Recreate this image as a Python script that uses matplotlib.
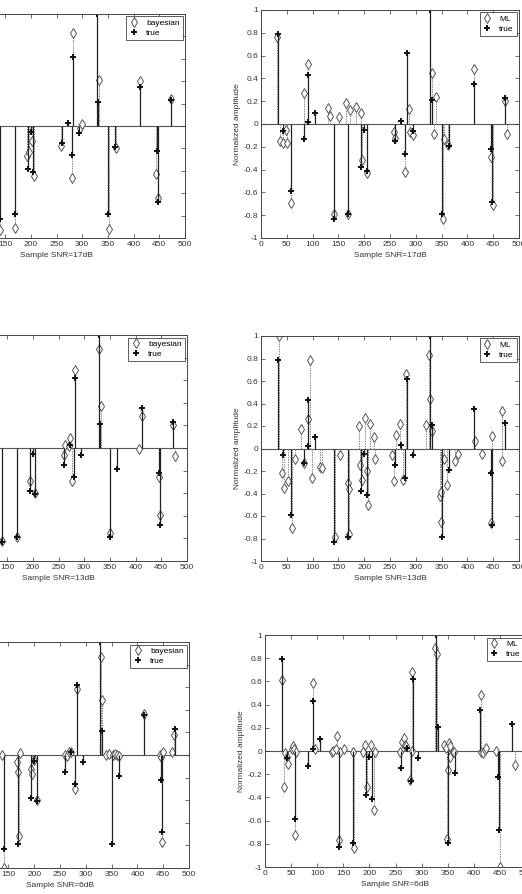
import numpy as np
import matplotlib
matplotlib.use("Agg")
import matplotlib.pyplot as plt

plt.rcParams["font.family"] = ["Liberation Sans", "DejaVu Sans"]

# True sparse signal (same in all panels)
true_idx = [33, 43, 58, 83, 91, 92, 105, 141, 169, 194, 200, 205, 260, 272, 280, 283,
            294, 328, 331, 351, 364, 412, 446, 448, 473]
true_val = [0.79, -0.06, -0.59, -0.13, 0.02, 0.43, 0.10, -0.83, -0.79, -0.38, -0.05, -0.41,
            -0.15, 0.03, -0.26, 0.62, -0.06, 1.00, 0.21, -0.79, -0.19, 0.35, -0.22, -0.68, 0.23]

# Bayesian estimates (left column, only the visible part)
bay17_idx = [141, 169, 193, 196, 202, 207, 259, 280, 283, 296, 299, 333, 352, 366, 412, 444, 448, 472]
bay17_val = [-0.93, -0.91, -0.27, -0.23, -0.13, -0.45, -0.18, -0.46, 0.83, -0.02, 0.02, 0.41,
             -0.92, -0.20, 0.40, -0.43, -0.64, 0.24]

bay13_idx = [141, 169, 194, 205, 260, 262, 271, 273, 277, 283, 329, 333, 351, 406, 412, 446, 448, 473, 476]
bay13_val = [-0.82, -0.79, -0.29, -0.40, -0.06, 0.03, 0.02, 0.09, -0.29, 0.69, 0.88, 0.37, -0.75,
             -0.01, 0.28, -0.26, -0.59, 0.20, -0.07]

bay6_idx = [137, 141, 167, 168, 170, 172, 193, 195, 200, 205, 259, 263, 267, 272, 280, 283, 329, 332,
            339, 345, 353, 356, 361, 364, 412, 444, 446, 448, 450, 468, 471]
bay6_val = [0.00, -1.00, -0.06, -0.15, -0.72, 0.02, -0.12, -0.17, -0.04, -0.40, 0.00, -0.01, 0.03,
            0.03, -0.30, 0.58, 0.87, 0.49, 0.00, 0.01, 0.00, 0.01, 0.00, -0.01, 0.36, 0.00, -0.02,
            -0.77, 0.03, 0.03, 0.18]

# ML estimates (right column)
ml17_idx = [31, 37, 43, 48, 50, 58, 83, 92, 130, 134, 141, 152, 164, 169, 173, 185, 193, 195, 205,
            257, 260, 280, 287, 288, 294, 331, 336, 340, 352, 355, 363, 413, 446, 449, 473, 477]
ml17_val = [0.76, -0.15, -0.17, -0.05, -0.17, -0.69, 0.27, 0.53, 0.14, 0.07, -0.79, 0.06, 0.18,
            -0.79, 0.12, 0.15, 0.10, -0.32, -0.43, -0.07, -0.12, -0.42, 0.13, -0.07, -0.10, 0.45,
            -0.09, 0.24, -0.83, -0.13, -0.18, 0.48, -0.29, -0.71, 0.20, -0.09]

ml13_idx = [34, 41, 45, 52, 61, 66, 77, 84, 91, 95, 99, 114, 119, 143, 153, 168, 170, 171, 189, 192,
            195, 201, 205, 208, 211, 219, 221, 253, 258, 261, 269, 276, 281, 319, 325, 328, 332, 347,
            348, 349, 354, 361, 375, 381, 415, 428, 446, 448, 467, 468]
ml13_val = [1.0, -0.22, -0.35, -0.29, -0.71, -0.09, 0.17, -0.13, 0.26, 0.79, -0.26, -0.16, -0.17,
            -0.79, -0.06, -0.31, -0.36, -0.76, 0.20, -0.15, -0.28, 0.27, -0.20, -0.50, 0.22, 0.10,
            -0.09, -0.06, -0.29, 0.12, 0.22, -0.28, 0.66, 0.21, 0.83, 0.44, 0.16, -0.42, -0.39,
            -0.65, -0.09, -0.32, -0.11, -0.05, 0.07, -0.05, -0.66, 0.11, 0.33, -0.11]

ml6_idx = [32, 36, 38, 42, 45, 51, 53, 56, 58, 59, 91, 96, 128, 131, 136, 137, 142, 144, 152, 169,
           171, 188, 192, 195, 204, 208, 211, 258, 263, 267, 269, 271, 278, 281, 282, 326, 329, 343,
           346, 348, 350, 352, 354, 355, 361, 363, 413, 414, 418, 421, 424, 442, 450, 479]
ml6_val = [0.61, -0.31, -0.02, -0.05, -0.11, 0.02, 0.04, 0.02, -0.72, -0.01, 0.59, 0.02, -0.01,
           0.00, 0.02, 0.13, -0.77, -0.01, 0.02, -0.01, -0.84, -0.01, 0.05, -0.31, 0.05, -0.51,
           -0.01, -0.01, 0.08, 0.11, 0.05, 0.04, -0.25, 0.68, 0.00, 0.89, 0.84, 0.05, 0.03, -0.76,
           -0.16, 0.07, -0.05, 0.04, -0.01, -0.01, 0.48, -0.01, -0.02, 0.01, 0.03, 0.00, -1.00, -0.12]

x_ticks = np.arange(0, 501, 50)
y_ticks = np.round(np.arange(-1, 1.01, 0.2), 1)
y_ticklabels = ["-1", "-0.8", "-0.6", "-0.4", "-0.2", "0", "0.2", "0.4", "0.6", "0.8", "1"]

W, H = 522, 894
fig = plt.figure(figsize=(W / 100, H / 100), dpi=100)

# pixel boxes: left, right, top, bottom
panels = [
    ((-72, 185, 14, 238), bay17_idx, bay17_val, "bayesian", "Sample SNR=17dB", True),
    ((261, 519, 10, 238), ml17_idx, ml17_val, "ML", "Sample SNR=17dB", False),
    ((-70, 187, 335, 561), bay13_idx, bay13_val, "bayesian", "Sample SNR=13dB", True),
    ((261, 519, 336, 561), ml13_idx, ml13_val, "ML", "Sample SNR=13dB", False),
    ((-69, 189, 642, 868), bay6_idx, bay6_val, "bayesian", "Sample SNR=6dB", True),
    ((265, 526, 635, 867), ml6_idx, ml6_val, "ML", "Sample SNR=6dB", False),
]

for (x0, x1, yt, yb), est_idx, est_val, est_name, xlab, cropped in panels:
    ax = fig.add_axes([x0 / W, 1 - yb / H, (x1 - x0) / W, (yb - yt) / H])
    ax.axhline(0, color="#555555", lw=0.8, zorder=1)

    m, s, b = ax.stem(est_idx, est_val, linefmt="-", markerfmt="d", basefmt=" ")
    s.set_color("#8a8a8a")
    s.set_linewidth(0.7)
    s.set_linestyle((0, (1.5, 1)))
    m.set_markerfacecolor("white")
    m.set_markeredgecolor("#555555")
    m.set_markersize(5)
    m.set_markeredgewidth(0.7)
    m.set_label(est_name)

    m2, s2, b2 = ax.stem(true_idx, true_val, linefmt="-", markerfmt="+", basefmt=" ")
    s2.set_color("#222222")
    s2.set_linewidth(0.9)
    m2.set_color("#111111")
    m2.set_markersize(5)
    m2.set_markeredgewidth(1.4)
    m2.set_label("true")

    ax.set_xlim(0, 500)
    ax.set_ylim(-1, 1)
    ax.set_xticks(x_ticks)
    ax.set_yticks(y_ticks)
    if cropped:
        # left column: the scan cuts these panels, so only the visible labels are kept
        ax.set_yticklabels([""] * len(y_ticks))
        ax.set_xticklabels([str(t) if t >= 150 else "" for t in x_ticks])
    else:
        ax.set_yticklabels(y_ticklabels)
        ax.set_ylabel("Normalized amplitude", fontsize=6, labelpad=2, color="#333333")
    ax.tick_params(direction="in", top=True, right=True, length=3, width=0.5,
                   labelsize=6, pad=2, colors="#333333")
    for sp in ax.spines.values():
        sp.set_linewidth(0.7)
        sp.set_color("#444444")
    ax.set_xlabel(xlab, fontsize=6, labelpad=3, color="#333333")

    leg = ax.legend(handles=[m, m2], loc="upper right", fontsize=6, handlelength=1.2,
                    handletextpad=0.8, borderpad=0.35, labelspacing=0.25, fancybox=False,
                    borderaxespad=0.3)
    leg.get_frame().set_edgecolor("#333333")
    leg.get_frame().set_linewidth(0.7)

fig.savefig("out.png", dpi=100)
